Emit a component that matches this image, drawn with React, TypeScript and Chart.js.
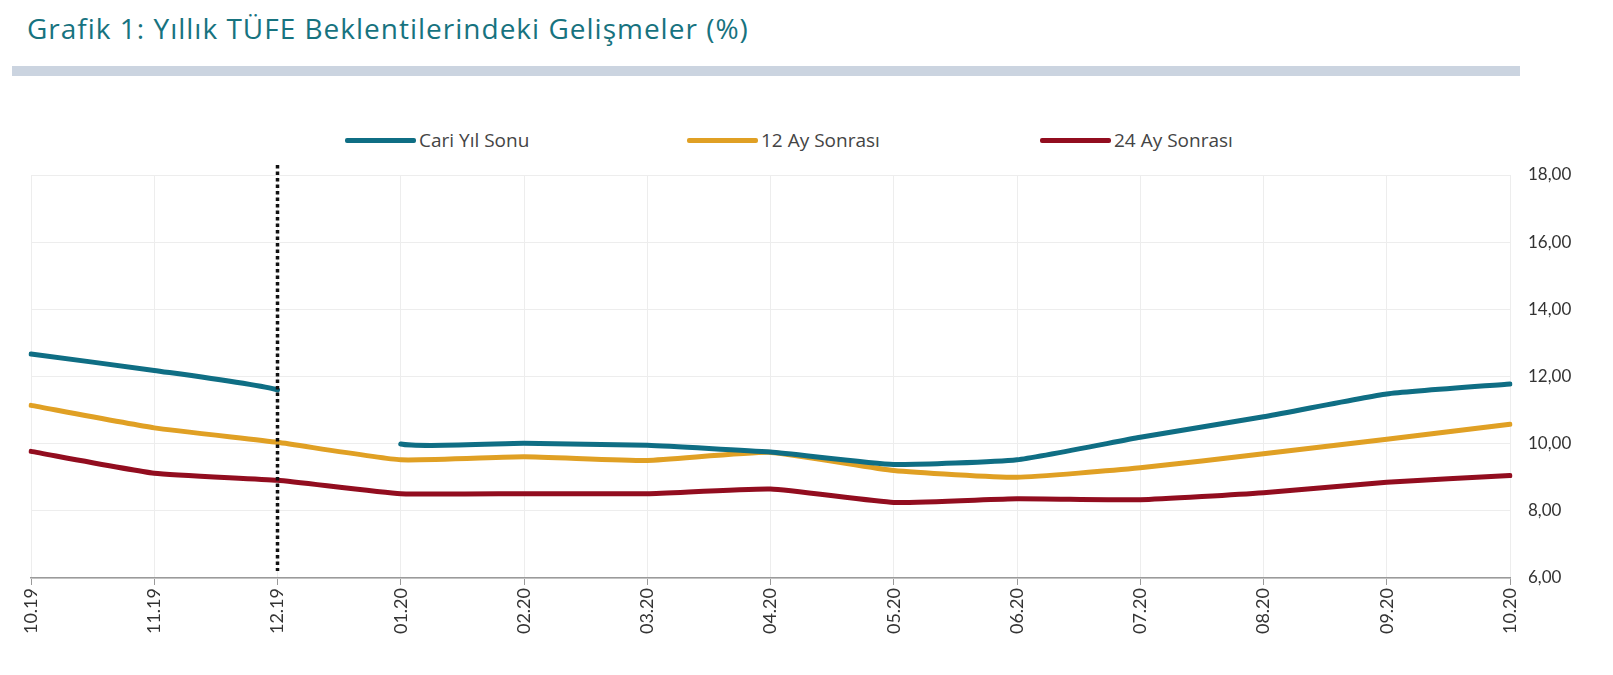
import React, { useEffect, useRef } from 'react';
import { Chart, registerables } from 'chart.js';

Chart.register(...registerables);

const labels = ['10.19', '11.19', '12.19', '01.20', '02.20', '03.20', '04.20', '05.20', '06.20', '07.20', '08.20', '09.20', '10.20'];
const cariYilSonu = [12.67, 12.18, 11.6, 9.99, 10.01, 9.95, 9.75, 9.38, 9.52, 10.19, 10.8, 11.48, 11.78];
const ay12Sonrasi = [11.14, 10.47, 10.04, 9.52, 9.61, 9.5, 9.74, 9.2, 9.0, 9.28, 9.7, 10.13, 10.58];
const ay24Sonrasi = [9.77, 9.12, 8.91, 8.51, 8.51, 8.51, 8.65, 8.25, 8.36, 8.33, 8.54, 8.85, 9.05];
const seriesNames = ['Cari Yıl Sonu', '12 Ay Sonrası', '24 Ay Sonrası'];
const seriesColors = ['#0f6e84', '#e0a024', '#920d1f'];
const yTicks = [6, 8, 10, 12, 14, 16, 18];
const breakAfterIndex = 2; // Cari Yıl Sonu line breaks between 12.19 and 01.20
const dividerIndex = 2; // dotted vertical line at 12.19
const titleText = 'Grafik 1: Yıllık TÜFE Beklentilerindeki Gelişmeler (%)';

const FONT = 'Lato, "Open Sans", sans-serif';
const FONT_WIDE = '"Open Sans", Lato, sans-serif';

const dividerPlugin = {
  id: 'divider',
  afterDatasetsDraw(chart: any) {
    const { ctx, scales } = chart;
    const x = scales.x.getPixelForValue(dividerIndex);
    const top = scales.y.getPixelForValue(yTicks[yTicks.length - 1]) - 10;
    const bottom = scales.y.getPixelForValue(yTicks[0]) - 7;
    ctx.save();
    ctx.setLineDash([3.5, 3]);
    ctx.lineWidth = 3.5;
    ctx.strokeStyle = '#111';
    ctx.beginPath();
    ctx.moveTo(x, top);
    ctx.lineTo(x, bottom);
    ctx.stroke();
    ctx.restore();
  },
};

export default function App() {
  const canvasRef = useRef<HTMLCanvasElement | null>(null);

  useEffect(() => {
    if (!canvasRef.current) return;
    const seriesData = [cariYilSonu, ay12Sonrasi, ay24Sonrasi];
    const chart = new Chart(canvasRef.current, {
      type: 'line',
      data: {
        labels,
        datasets: seriesData.map((d, i) => ({
          label: seriesNames[i],
          data: d,
          borderColor: seriesColors[i],
          backgroundColor: seriesColors[i],
          borderWidth: 5,
          pointRadius: 0,
          tension: 0.15,
          borderCapStyle: 'round',
          borderJoinStyle: 'round',
          fill: false,
          segment: i === 0
            ? { borderColor: (ctx: any) => (ctx.p0DataIndex === breakAfterIndex ? 'rgba(0,0,0,0)' : undefined) }
            : undefined,
        })),
      },
      options: {
        animation: false,
        responsive: false,
        devicePixelRatio: 1,
        layout: { padding: { top: 75, left: 31, right: 0, bottom: 0 } },
        plugins: {
          legend: { display: false },
          tooltip: { enabled: false },
        },
        scales: {
          x: {
            offset: false,
            afterFit: (scale: any) => { scale.height = 97; },
            grid: { color: '#ededed', tickColor: '#9a9a9a', tickLength: 7, lineWidth: 1 },
            border: { color: '#9a9a9a', width: 1.5 },
            ticks: {
              maxRotation: 90,
              minRotation: 90,
              autoSkip: false,
              padding: 3,
              color: '#333',
              font: { family: FONT, size: 18 },
            },
          },
          y: {
            position: 'right',
            min: yTicks[0],
            max: yTicks[yTicks.length - 1],
            afterFit: (scale: any) => { scale.width = 103; },
            afterBuildTicks: (scale: any) => { scale.ticks = yTicks.map((v) => ({ value: v })); },
            grid: { color: '#ededed', drawTicks: false, lineWidth: 1 },
            border: { display: false },
            ticks: {
              padding: 18,
              color: '#333',
              font: { family: FONT, size: 17 },
              callback: (v: any) => Number(v).toFixed(2).replace('.', ','),
            },
          },
        },
      },
      plugins: [dividerPlugin],
    } as any);
    return () => chart.destroy();
  }, []);

  const legendLeft = [345, 687, 1040];

  return (
    <div style={{ position: 'absolute', left: 0, top: 0, width: 1613, height: 675, background: '#fff', overflow: 'hidden' }}>
      <div
        style={{
          position: 'absolute', left: 27, top: 12, fontFamily: FONT_WIDE, fontSize: 28,
          lineHeight: '32px', letterSpacing: '1px', color: '#17737f', whiteSpace: 'nowrap',
        }}
      >
        {titleText}
      </div>
      <div style={{ position: 'absolute', left: 12, top: 66, width: 1508, height: 10, background: '#cbd4e0' }} />
      {seriesNames.map((name, i) => (
        <div key={name} style={{ position: 'absolute', left: legendLeft[i], top: 128, height: 24, display: 'flex', alignItems: 'center' }}>
          <div style={{ width: 71, height: 5, background: seriesColors[i], borderRadius: 2 }} />
          <span style={{ marginLeft: 3, fontFamily: FONT_WIDE, fontSize: 19, color: '#444', whiteSpace: 'nowrap' }}>{name}</span>
        </div>
      ))}
      <canvas ref={canvasRef} width={1613} height={575} style={{ position: 'absolute', left: 0, top: 100, width: 1613, height: 575 }} />
    </div>
  );
}
